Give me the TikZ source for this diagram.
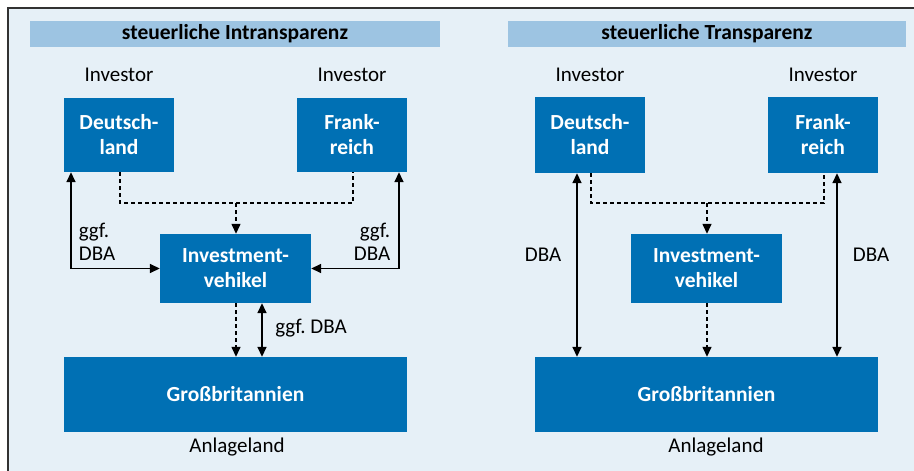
\documentclass[tikz,border=0pt]{standalone}
\usepackage{fontspec}
\setmainfont{Carlito}
\usetikzlibrary{arrows.meta}
\definecolor{boxblue}{RGB}{0,112,180}
\definecolor{headblue}{RGB}{157,196,226}
\definecolor{bgblue}{RGB}{230,240,247}
\definecolor{framegray}{RGB}{50,50,50}
\tikzset{
  bluebox/.style={fill=boxblue, text=white, font=\fontsize{21.5}{25}\selectfont\bfseries, align=center, inner sep=0pt},
  headbar/.style={fill=headblue, text=black, font=\fontsize{21.5}{24}\selectfont\bfseries, inner sep=0pt, minimum height=26pt},
  lbl/.style={font=\fontsize{21}{23}\selectfont, text=black, inner sep=0pt},
  solidarr/.style={line width=1.6pt, {Triangle[length=10pt,width=9pt]}-{Triangle[length=10pt,width=9pt]}},
  dashln/.style={line width=1.4pt, dash pattern=on 4pt off 3pt},
  dasharr/.style={dashln, -{Triangle[length=10pt,width=9pt]}}
}
\begin{document}
\begin{tikzpicture}[x=1pt,y=-1pt]
\useasboundingbox (0,0) rectangle (914,471);
\fill[bgblue] (8,8) rectangle (914,471);
\draw[framegray, line width=1.5pt] (8,471) -- (8,8) -- (914,8);

% headers
\node[headbar, minimum width=410pt] (hl) at (235,34) {steuerliche Intransparenz};
\node[headbar, minimum width=398pt] (hr) at (707,34) {steuerliche Transparenz};

% left panel
\node[lbl] (iL1) at (119,75) {Investor};
\node[lbl] (iL2) at (352,75) {Investor};
\node[bluebox, minimum width=110pt, minimum height=74pt] (dL) at (119,135) {Deutsch-\\land};
\node[bluebox, minimum width=110pt, minimum height=74pt] (fL) at (352,135) {Frank-\\reich};
\node[bluebox, minimum width=151pt, minimum height=69pt] (vL) at (235.5,268.5) {Investment-\\vehikel};
\node[bluebox, minimum width=343pt, minimum height=75pt] (gL) at (235.5,394.5) {Großbritannien};
\node[lbl] (aL) at (237,447) {Anlageland};

\draw[solidarr] ([xshift=-48pt]dL.south) |- (vL.west);
\draw[solidarr] ([xshift=47pt]fL.south) |- (vL.east);
\coordinate (jL) at (236,203);
\draw[dashln] ([xshift=1pt]dL.south) |- (jL) -| ([xshift=1pt]fL.south);
\draw[dasharr] (jL) -- (jL |- vL.north);
\draw[dasharr] ([xshift=0.5pt]vL.south) -- ([xshift=0.5pt]vL.south |- gL.north);
\draw[solidarr] ([xshift=26.5pt]vL.south) -- ([xshift=26.5pt]vL.south |- gL.north);
\node[lbl, align=left] (gdL) at (97,242) {ggf.\\DBA};
\node[lbl, align=right] (gdR) at (372,242) {ggf.\\DBA};
\node[lbl] (gdM) at (311,328) {ggf.\ DBA};

% right panel
\node[lbl] (iR1) at (590,75) {Investor};
\node[lbl] (iR2) at (823,75) {Investor};
\node[bluebox, minimum width=110pt, minimum height=76pt] (dR) at (590,135) {Deutsch-\\land};
\node[bluebox, minimum width=110pt, minimum height=76pt] (fR) at (823,135) {Frank-\\reich};
\node[bluebox, minimum width=151pt, minimum height=69pt] (vR) at (706.5,268.5) {Investment-\\vehikel};
\node[bluebox, minimum width=343pt, minimum height=75pt] (gR) at (706.5,394.5) {Großbritannien};
\node[lbl] (aR) at (716,447) {Anlageland};

\draw[solidarr] ([xshift=-13pt]dR.south) -- ([xshift=-13pt]dR.south |- gR.north);
\draw[solidarr] ([xshift=14pt]fR.south) -- ([xshift=14pt]fR.south |- gR.north);
\coordinate (jR) at (707,203);
\draw[dashln] ([xshift=1pt]dR.south) |- (jR) -| ([xshift=1pt]fR.south);
\draw[dasharr] (jR) -- (jR |- vR.north);
\draw[dasharr] ([xshift=0.5pt]vR.south) -- ([xshift=0.5pt]vR.south |- gR.north);
\node[lbl] (dbaL) at (543,255) {DBA};
\node[lbl] (dbaR) at (871,255) {DBA};
\end{tikzpicture}
\end{document}
